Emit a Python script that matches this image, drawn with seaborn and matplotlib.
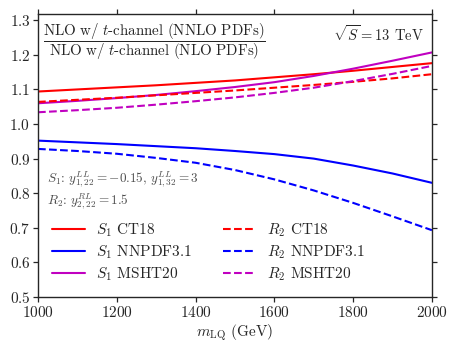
import numpy as np
import pandas as pd
import matplotlib
matplotlib.use("Agg")
import matplotlib.pyplot as plt
import seaborn as sns

# LQ mass points (GeV)
mass = [1000, 1100, 1200, 1300, 1400, 1500, 1600, 1700, 1800, 1900, 2000]

# ratio NNLO PDFs / NLO PDFs
s1_ct18 = [1.094, 1.100, 1.106, 1.112, 1.119, 1.126, 1.135, 1.144, 1.154, 1.165, 1.176]
s1_nnpdf = [0.952, 0.947, 0.942, 0.936, 0.930, 0.922, 0.913, 0.900, 0.880, 0.857, 0.830]
s1_msht = [1.060, 1.067, 1.075, 1.084, 1.095, 1.107, 1.121, 1.139, 1.160, 1.183, 1.207]
r2_ct18 = [1.064, 1.070, 1.076, 1.083, 1.090, 1.097, 1.105, 1.113, 1.122, 1.132, 1.144]
r2_nnpdf = [0.928, 0.922, 0.914, 0.902, 0.888, 0.867, 0.840, 0.808, 0.772, 0.733, 0.693]
r2_msht = [1.034, 1.040, 1.047, 1.056, 1.066, 1.077, 1.090, 1.105, 1.124, 1.145, 1.168]

labels = [r"$S_1$ CT18", r"$S_1$ NNPDF3.1", r"$S_1$ MSHT20",
          r"$R_2$ CT18", r"$R_2$ NNPDF3.1", r"$R_2$ MSHT20"]
series = [s1_ct18, s1_nnpdf, s1_msht, r2_ct18, r2_nnpdf, r2_msht]

df = pd.concat([pd.DataFrame({"mass": mass, "ratio": v, "label": lab})
                for lab, v in zip(labels, series)], ignore_index=True)

palette = dict(zip(labels, ["#ff0000", "#0000ff", "#c000c0"] * 2))
dashes = dict(zip(labels, [""] * 3 + [(3.7, 1.6)] * 3))

sns.set_style("ticks")
plt.rcParams["font.family"] = "serif"
plt.rcParams["font.serif"] = ["cmr10"]
plt.rcParams["mathtext.fontset"] = "cm"
plt.rcParams["axes.formatter.use_mathtext"] = True

fig = plt.figure(figsize=(4.58, 3.51), dpi=100)
ax = fig.add_axes([0.083, 0.154, 0.860, 0.806])

sns.lineplot(data=df, x="mass", y="ratio", hue="label", style="label",
             palette=palette, dashes=dashes, linewidth=1.5, ax=ax)

ax.set_xlim(1000, 2000)
ax.set_ylim(0.5, 1.318)
ax.set_yticks(np.arange(0.5, 1.31, 0.1))
ax.set_xlabel(r"$m_{\rm LQ}$ (GeV)", fontsize=11, labelpad=2)
ax.set_ylabel("")
ax.tick_params(direction="out", length=3.5, width=0.9, labelsize=11,
               top=True, right=True, pad=2)
for sp in ax.spines.values():
    sp.set_linewidth(1.0)

ax.text(0.013, 0.975,
        r"$\dfrac{\mathrm{NLO\ w/\ }t\mathrm{\text{-}channel\ (NNLO\ PDFs)}}"
        r"{\mathrm{NLO\ w/\ }t\mathrm{\text{-}channel\ (NLO\ PDFs)}}$",
        transform=ax.transAxes, ha="left", va="top", fontsize=10.8, color=".15")
ax.text(0.98, 0.93, r"$\sqrt{S} = 13$ TeV", transform=ax.transAxes,
        ha="right", va="center", fontsize=10.5, color=".15")
ax.text(0.022, 0.413, r"$S_1$: $y^{LL}_{1,22} = -0.15$, $y^{LL}_{1,32} = 3$",
        transform=ax.transAxes, ha="left", va="center", fontsize=9.5, color=".3")
ax.text(0.022, 0.336, r"$R_2$: $y^{RL}_{2,22} = 1.5$",
        transform=ax.transAxes, ha="left", va="center", fontsize=9.5, color=".3")

handles, labs = ax.get_legend_handles_labels()
ax.legend(handles=handles, labels=labs, ncol=2, loc="lower left",
          bbox_to_anchor=(0.0, 0.0), frameon=False, fontsize=11,
          handlelength=2.2, columnspacing=2.0, labelspacing=0.28,
          handletextpad=0.7)

fig.savefig("out.png", dpi=100)
